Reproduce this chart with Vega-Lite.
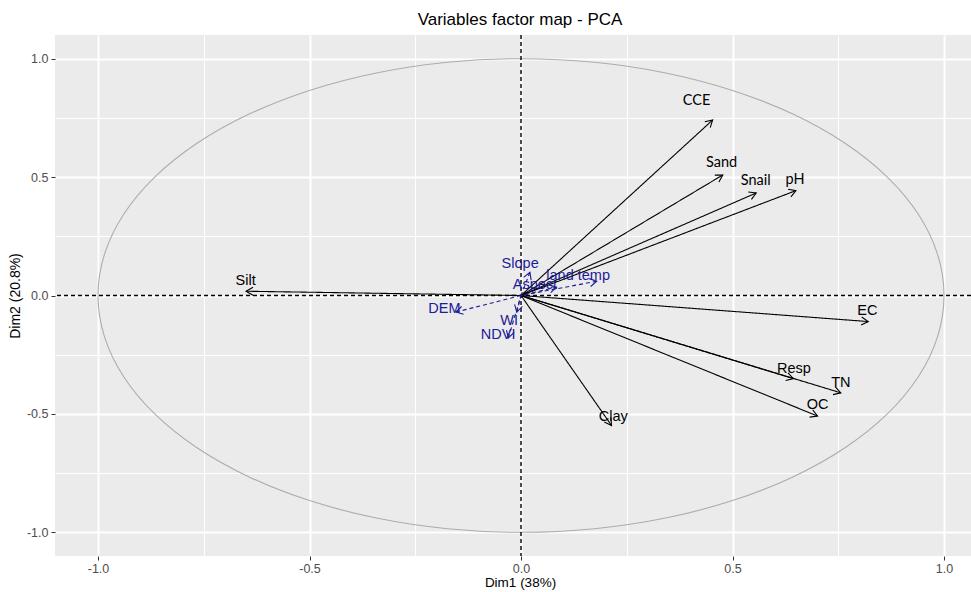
{
  "$schema": "https://vega.github.io/schema/vega-lite/v6.json",
  "autosize": "none",
  "width": 916,
  "height": 521,
  "padding": {"left": 55, "top": 35, "right": 0, "bottom": 36},
  "background": "white",
  "config": {
    "view": {"fill": "#EBEBEB", "stroke": null},
    "font": "Liberation Sans"
  },
  "title": {"text": "Variables factor map - PCA", "fontSize": 17, "font": "Liberation Sans", "fontWeight": "normal", "color": "black", "anchor": "middle", "offset": 5, "dx": 7},
  "datasets": {
    "circle": [
      {"i": 0, "x": 1, "y": 0}, {"i": 1, "x": 0.9848, "y": 0.1736}, {"i": 2, "x": 0.9397, "y": 0.342}, {"i": 3, "x": 0.866, "y": 0.5},
      {"i": 4, "x": 0.766, "y": 0.6428}, {"i": 5, "x": 0.6428, "y": 0.766}, {"i": 6, "x": 0.5, "y": 0.866}, {"i": 7, "x": 0.342, "y": 0.9397},
      {"i": 8, "x": 0.1736, "y": 0.9848}, {"i": 9, "x": 0, "y": 1}, {"i": 10, "x": -0.1736, "y": 0.9848}, {"i": 11, "x": -0.342, "y": 0.9397},
      {"i": 12, "x": -0.5, "y": 0.866}, {"i": 13, "x": -0.6428, "y": 0.766}, {"i": 14, "x": -0.766, "y": 0.6428}, {"i": 15, "x": -0.866, "y": 0.5},
      {"i": 16, "x": -0.9397, "y": 0.342}, {"i": 17, "x": -0.9848, "y": 0.1736}, {"i": 18, "x": -1, "y": 0}, {"i": 19, "x": -0.9848, "y": -0.1736},
      {"i": 20, "x": -0.9397, "y": -0.342}, {"i": 21, "x": -0.866, "y": -0.5}, {"i": 22, "x": -0.766, "y": -0.6428}, {"i": 23, "x": -0.6428, "y": -0.766},
      {"i": 24, "x": -0.5, "y": -0.866}, {"i": 25, "x": -0.342, "y": -0.9397}, {"i": 26, "x": -0.1736, "y": -0.9848}, {"i": 27, "x": 0, "y": -1},
      {"i": 28, "x": 0.1736, "y": -0.9848}, {"i": 29, "x": 0.342, "y": -0.9397}, {"i": 30, "x": 0.5, "y": -0.866}, {"i": 31, "x": 0.6428, "y": -0.766},
      {"i": 32, "x": 0.766, "y": -0.6428}, {"i": 33, "x": 0.866, "y": -0.5}, {"i": 34, "x": 0.9397, "y": -0.342}, {"i": 35, "x": 0.9848, "y": -0.1736}
    ],
    "vars": [
      {"name": "CCE", "group": "active", "x": 0.453, "y": 0.741, "lx": 0.415, "ly": 0.82},
      {"name": "Sand", "group": "active", "x": 0.477, "y": 0.509, "lx": 0.474, "ly": 0.558},
      {"name": "Snail", "group": "active", "x": 0.556, "y": 0.433, "lx": 0.555, "ly": 0.485},
      {"name": "pH", "group": "active", "x": 0.65, "y": 0.443, "lx": 0.648, "ly": 0.489},
      {"name": "EC", "group": "active", "x": 0.821, "y": -0.11, "lx": 0.819, "ly": -0.066},
      {"name": "Resp", "group": "active", "x": 0.644, "y": -0.351, "lx": 0.645, "ly": -0.312},
      {"name": "TN", "group": "active", "x": 0.756, "y": -0.411, "lx": 0.756, "ly": -0.37},
      {"name": "OC", "group": "active", "x": 0.701, "y": -0.509, "lx": 0.701, "ly": -0.464},
      {"name": "Clay", "group": "active", "x": 0.214, "y": -0.549, "lx": 0.218, "ly": -0.513},
      {"name": "Silt", "group": "active", "x": -0.65, "y": 0.018, "lx": -0.651, "ly": 0.06},
      {"name": "Slope", "group": "sup", "x": 0.021, "y": 0.098, "lx": -0.002, "ly": 0.131},
      {"name": "land temp", "group": "sup", "x": 0.179, "y": 0.06, "lx": 0.135, "ly": 0.084},
      {"name": "Aspect", "group": "sup", "x": 0.084, "y": 0.035, "lx": 0.033, "ly": 0.046},
      {"name": "DEM", "group": "sup", "x": -0.154, "y": -0.07, "lx": -0.181, "ly": -0.056},
      {"name": "WI", "group": "sup", "x": -0.01, "y": -0.07, "lx": -0.028, "ly": -0.108},
      {"name": "NDVI", "group": "sup", "x": -0.03, "y": -0.179, "lx": -0.054, "ly": -0.165}
    ]
  },
  "layer": [
    {
      "data": {"name": "circle"},
      "mark": {"type": "line", "interpolate": "cardinal-closed", "color": "#acacac", "strokeWidth": 1.1},
      "encoding": {
        "x": {"field": "x", "type": "quantitative", "scale": {"domain": [-1.1017, 1.0638], "nice": false, "zero": false},
          "axis": {"values": [-1, -0.75, -0.5, -0.25, 0, 0.25, 0.5, 0.75, 1],
            "labelExpr": "abs(datum.value*2-round(datum.value*2))>0.01 ? '' : replace(format(datum.value,'.1f'),'−','-')",
            "grid": true, "gridColor": "white",
            "gridWidth": {"condition": {"test": "abs(datum.value*2-round(datum.value*2))>0.01", "value": 1}, "value": 2},
            "tickOpacity": {"condition": {"test": "abs(datum.value*2-round(datum.value*2))>0.01", "value": 0}, "value": 1},
            "tickColor": "#333333", "tickSize": 4, "tickWidth": 1, "domain": false,
            "labelColor": "#4d4d4d", "labelFontSize": 12.5, "labelFont": "Liberation Sans", "labelPadding": 2,
            "title": "Dim1 (38%)", "titleFontSize": 13.5, "titleFontWeight": "normal", "titleColor": "black", "titleFont": "Liberation Sans", "titlePadding": 1, "titleX": 465}},
        "y": {"field": "y", "type": "quantitative", "scale": {"domain": [-1.1, 1.1], "nice": false, "zero": false},
          "axis": {"values": [-1, -0.75, -0.5, -0.25, 0, 0.25, 0.5, 0.75, 1],
            "labelExpr": "abs(datum.value*2-round(datum.value*2))>0.01 ? '' : replace(format(datum.value,'.1f'),'−','-')",
            "grid": true, "gridColor": "white",
            "gridWidth": {"condition": {"test": "abs(datum.value*2-round(datum.value*2))>0.01", "value": 1}, "value": 2},
            "tickOpacity": {"condition": {"test": "abs(datum.value*2-round(datum.value*2))>0.01", "value": 0}, "value": 1},
            "tickColor": "#333333", "tickSize": 4, "tickWidth": 1, "domain": false,
            "labelColor": "#4d4d4d", "labelFontSize": 12.5, "labelFont": "Liberation Sans", "labelPadding": 3,
            "title": "Dim2 (20.8%)", "titleFontSize": 14, "titleFontWeight": "normal", "titleColor": "black", "titleFont": "Liberation Sans", "titlePadding": 4}},
        "order": {"field": "i", "type": "quantitative"}
      }
    },
    {
      "data": {"values": [{"v": 0}]},
      "mark": {"type": "rule", "color": "black", "strokeDash": [4, 3], "strokeWidth": 1.4},
      "encoding": {"x": {"field": "v", "type": "quantitative"}}
    },
    {
      "data": {"values": [{"v": 0}]},
      "mark": {"type": "rule", "color": "black", "strokeDash": [4, 3], "strokeWidth": 1.4},
      "encoding": {"y": {"field": "v", "type": "quantitative"}}
    },
    {
      "data": {"name": "vars"},
      "mark": {"type": "rule", "strokeWidth": 1.1},
      "encoding": {
        "x": {"field": "x", "type": "quantitative"},
        "y": {"field": "y", "type": "quantitative"},
        "x2": {"datum": 0},
        "y2": {"datum": 0},
        "color": {"field": "group", "type": "nominal", "scale": {"domain": ["active", "sup"], "range": ["black", "#1c1c96"]}, "legend": null},
        "strokeDash": {"field": "group", "type": "nominal", "scale": {"domain": ["active", "sup"], "range": [[1, 0], [4, 3]]}, "legend": null}
      }
    },
    {
      "data": {"name": "vars"},
      "transform": [{"calculate": "atan2(datum.x*423, datum.y*237)*180/PI", "as": "angle"}],
      "mark": {"type": "point", "shape": "M -0.5 0.866 L 0 0 L 0.5 0.866", "filled": false, "size": 256, "strokeWidth": 1.1, "opacity": 1},
      "encoding": {
        "x": {"field": "x", "type": "quantitative"},
        "y": {"field": "y", "type": "quantitative"},
        "angle": {"field": "angle", "type": "quantitative", "scale": null},
        "color": {"field": "group", "type": "nominal", "scale": {"domain": ["active", "sup"], "range": ["black", "#1c1c96"]}, "legend": null}
      }
    },
    {
      "data": {"name": "vars"},
      "transform": [{"filter": "indexof(['CCE','Sand','Snail','pH'], datum.name) < 0"}],
      "mark": {"type": "text", "font": "Liberation Sans", "fontSize": 14.5, "baseline": "middle", "align": "center"},
      "encoding": {
        "x": {"field": "lx", "type": "quantitative"},
        "y": {"field": "ly", "type": "quantitative"},
        "text": {"field": "name"},
        "color": {"field": "group", "type": "nominal", "scale": {"domain": ["active", "sup"], "range": ["black", "#1c1c96"]}, "legend": null}
      }
    },
    {
      "data": {"name": "vars"},
      "transform": [{"filter": "indexof(['CCE','Sand','Snail','pH'], datum.name) >= 0"}],
      "mark": {"type": "text", "font": "Lato", "fontSize": 14.5, "baseline": "middle", "align": "center", "color": "black"},
      "encoding": {
        "x": {"field": "lx", "type": "quantitative"},
        "y": {"field": "ly", "type": "quantitative"},
        "text": {"field": "name"}
      }
    }
  ]
}
